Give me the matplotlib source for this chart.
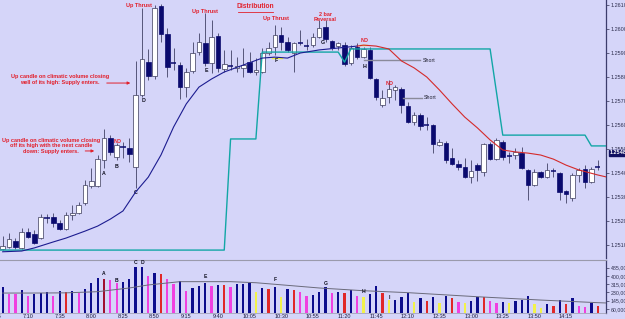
import matplotlib
matplotlib.use('Agg')
import matplotlib.pyplot as plt
import numpy as np

plt.rcParams['font.family'] = ['Liberation Sans', 'DejaVu Sans']

# ---------------- data ----------------
opens = [1.25083, 1.25092, 1.25117, 1.25088, 1.25154, 1.25146, 1.25129, 1.25213, 1.25217, 1.25192,
         1.25167, 1.25225, 1.25233, 1.25275, 1.25346, 1.25346, 1.25454, 1.25546, 1.25467, 1.25508,
         1.25504, 1.25425, 1.25725, 1.25863, 1.25804, 1.26096, 1.25979, 1.25858, 1.25850, 1.25758,
         1.25825, 1.25904, 1.25942, 1.25858, 1.25971, 1.25833, 1.25846, 1.25838, 1.25838, 1.25863,
         1.25821, 1.25821, 1.25900, 1.25925, 1.25975, 1.25946, 1.25900, 1.25942, 1.25929, 1.25933,
         1.25967, 1.26008, 1.25950, 1.25929, 1.25933, 1.25858, 1.25925, 1.25883, 1.25913, 1.25792,
         1.25683, 1.25717, 1.25746, 1.25750, 1.25679, 1.25613, 1.25642, 1.25600, 1.25600, 1.25517,
         1.25525, 1.25463, 1.25438, 1.25425, 1.25383, 1.25433, 1.25404, 1.25521, 1.25458, 1.25529,
         1.25471, 1.25475, 1.25483, 1.25413, 1.25350, 1.25404, 1.25383, 1.25408, 1.25400, 1.25325,
         1.25296, 1.25392, 1.25417, 1.25363, 1.25425]
closes = [1.25096, 1.25125, 1.25092, 1.25154, 1.25133, 1.25108, 1.25217, 1.25213, 1.25192, 1.25167,
          1.25225, 1.25233, 1.25267, 1.25350, 1.25367, 1.25458, 1.25546, 1.25488, 1.25517, 1.25508,
          1.25479, 1.25725, 1.25875, 1.25804, 1.26088, 1.25979, 1.25842, 1.25858, 1.25758, 1.25821,
          1.25900, 1.25946, 1.25858, 1.25967, 1.25838, 1.25854, 1.25846, 1.25846, 1.25850, 1.25821,
          1.25829, 1.25900, 1.25921, 1.25975, 1.25946, 1.25913, 1.25942, 1.25942, 1.25929, 1.25967,
          1.26004, 1.25958, 1.25921, 1.25942, 1.25854, 1.25921, 1.25883, 1.25917, 1.25796, 1.25717,
          1.25713, 1.25750, 1.25758, 1.25683, 1.25613, 1.25642, 1.25596, 1.25600, 1.25521, 1.25529,
          1.25454, 1.25438, 1.25425, 1.25383, 1.25408, 1.25413, 1.25521, 1.25458, 1.25538, 1.25467,
          1.25471, 1.25488, 1.25421, 1.25350, 1.25404, 1.25383, 1.25413, 1.25408, 1.25321, 1.25313,
          1.25392, 1.25413, 1.25363, 1.25417, 1.25425]
highs = [1.25138, 1.25150, 1.25129, 1.25171, 1.25171, 1.25163, 1.25229, 1.25229, 1.25233, 1.25204,
         1.25238, 1.25267, 1.25279, 1.25371, 1.25421, 1.25475, 1.25583, 1.25558, 1.25525, 1.25529,
         1.25546, 1.25867, 1.26088, 1.25917, 1.26100, 1.26104, 1.26004, 1.25921, 1.25863, 1.25838,
         1.25946, 1.25983, 1.26067, 1.26038, 1.25983, 1.25913, 1.25913, 1.25883, 1.25921, 1.25904,
         1.25879, 1.25921, 1.25946, 1.26017, 1.26008, 1.25967, 1.25946, 1.25996, 1.25958, 1.25983,
         1.26038, 1.26038, 1.25954, 1.25946, 1.25946, 1.25933, 1.25942, 1.25925, 1.25925, 1.25796,
         1.25746, 1.25788, 1.25767, 1.25758, 1.25696, 1.25654, 1.25650, 1.25633, 1.25604, 1.25542,
         1.25533, 1.25504, 1.25454, 1.25463, 1.25454, 1.25442, 1.25525, 1.25529, 1.25546, 1.25538,
         1.25488, 1.25504, 1.25508, 1.25417, 1.25417, 1.25408, 1.25442, 1.25421, 1.25404, 1.25329,
         1.25400, 1.25421, 1.25433, 1.25425, 1.25454]
lows = [1.25081, 1.25088, 1.25083, 1.25083, 1.25129, 1.25104, 1.25125, 1.25192, 1.25175, 1.25163,
        1.25163, 1.25204, 1.25229, 1.25267, 1.25338, 1.25342, 1.25421, 1.25475, 1.25454, 1.25463,
        1.25446, 1.25338, 1.25717, 1.25788, 1.25792, 1.25946, 1.25800, 1.25829, 1.25708, 1.25717,
        1.25817, 1.25892, 1.25846, 1.25817, 1.25821, 1.25821, 1.25829, 1.25821, 1.25800, 1.25817,
        1.25808, 1.25817, 1.25892, 1.25892, 1.25913, 1.25904, 1.25821, 1.25933, 1.25913, 1.25925,
        1.25963, 1.25946, 1.25913, 1.25913, 1.25846, 1.25850, 1.25875, 1.25879, 1.25792, 1.25704,
        1.25675, 1.25692, 1.25704, 1.25650, 1.25608, 1.25600, 1.25579, 1.25579, 1.25483, 1.25513,
        1.25442, 1.25433, 1.25413, 1.25379, 1.25358, 1.25367, 1.25388, 1.25454, 1.25454, 1.25454,
        1.25442, 1.25458, 1.25417, 1.25288, 1.25346, 1.25379, 1.25379, 1.25383, 1.25288, 1.25275,
        1.25283, 1.25363, 1.25338, 1.25358, 1.25413]

volume_k = [289, 214, 214, 255, 197, 214, 224, 235, 194, 248,
            238, 248, 228, 262, 330, 382, 365, 358, 324, 341,
            368, 495, 495, 399, 427, 417, 365, 314, 348, 245,
            273, 299, 324, 299, 307, 307, 283, 314, 317, 324,
            238, 273, 266, 283, 186, 266, 255, 238, 197, 207,
            232, 289, 221, 238, 221, 255, 197, 180, 214, 299,
            221, 152, 152, 186, 228, 135, 176, 145, 186, 125,
            197, 170, 129, 119, 145, 186, 180, 145, 125, 135,
            119, 142, 152, 197, 108, 67, 111, 94, 152, 111,
            170, 91, 84, 119, 94]
volume_cls = ("bppbpbbbpbrbpbbbdppbbbbpbrppbpbbbpbrpbbbybrbybrppbbbpbrbpybbryb"
              "bbybrbybrpybbrppbybbbyybrbrbppbr")

vol_ma_bars = [0, 5, 10, 15, 20, 23, 28, 36, 40, 43, 50, 57, 64, 75, 85, 94]
vol_ma_k = [224, 224, 226, 238, 276, 307, 341, 341, 330, 314, 276, 248, 228, 186, 152, 125]

ma_up_bars = [0, 3, 5, 8, 10, 13, 15, 17, 19, 21, 23, 25, 27, 29, 31, 33, 35, 38, 41, 43, 45, 47,
              50, 53, 56]
ma_up_vals = [1.25072, 1.25075, 1.25088, 1.25113, 1.25129, 1.25158, 1.25179, 1.25208, 1.25242,
              1.25321, 1.25383, 1.25475, 1.25592, 1.25688, 1.25758, 1.25792, 1.25821, 1.25850,
              1.25879, 1.25883, 1.25879, 1.25900, 1.25913, 1.25921, 1.25929]
ma_dn_bars = [56, 57, 59, 61, 63, 65, 67, 69, 71, 73, 75, 77, 79, 81, 83, 85, 87, 89, 91, 94]
ma_dn_vals = [1.25929, 1.25933, 1.25929, 1.25917, 1.25867, 1.25838, 1.25800, 1.25746, 1.25688,
              1.25633, 1.25588, 1.25538, 1.25496, 1.25488, 1.25483, 1.25475, 1.25458, 1.25433,
              1.25413, 1.25392]

stop_vals = [1.25079] * 36 + [1.25542] * 5 + [1.25904] * 13 + [1.25862] + [1.25917] * 23 + \
            [1.25738] + [1.25558] * 14 + [1.25513] * 2

time_ticks = [4, 9, 14, 19, 24, 29, 34, 39, 44, 49, 54, 59, 64, 69, 74, 79, 84, 89]
time_labels = ['7:10', '7:35', '8:00', '8:25', '8:50', '9:15', '9:40', '10:05', '10:30', '10:55',
               '11:20', '11:45', '12:10', '12:35', '13:00', '13:25', '13:50', '14:15']

price_ticks = [1.2510, 1.2520, 1.2530, 1.2540, 1.2550, 1.2560, 1.2570, 1.2580, 1.2590, 1.2600, 1.2610]
vol_ticks_k = [60, 145, 230, 315, 400, 485]
last_price = 1.25484

# ---------------- style ----------------
BG = '#d5d5f9'
NAVY = '#0a0a6e'
WICK = '#56567a'
EDGE = '#3a3a5a'
RED = '#e2202c'
AXC = '#3c3c6c'
VCOL = {'b': '#0c0c8c', 'p': '#f040e0', 'r': '#e02828', 'd': '#a01030', 'y': '#f2f24a'}

W, H = 625, 319
fig = plt.figure(figsize=(W / 100, H / 100), dpi=100, facecolor=BG)
axp = fig.add_axes([0, 1 - 258 / H, 606 / W, 258 / H], facecolor=BG)
axv = fig.add_axes([0, 1 - 312.5 / H, 606 / W, 52.5 / H], facecolor=BG)

xmin, xmax = -0.427, 95.31
n = len(opens)
x = np.arange(n)

# candles
o = np.array(opens); c = np.array(closes); hi = np.array(highs); lo = np.array(lows)
axp.vlines(x, lo, hi, color=WICK, lw=0.7, zorder=1)
up = c > o
dn = c < o
dj = c == o
axp.bar(x[up], (c - o)[up], bottom=o[up], width=0.72, color='white', edgecolor=EDGE,
        linewidth=0.5, zorder=2)
axp.bar(x[dn], (o - c)[dn], bottom=c[dn], width=0.72, color=NAVY, edgecolor=NAVY,
        linewidth=0.5, zorder=2)
axp.hlines(c[dj], x[dj] - 0.4, x[dj] + 0.4, color=NAVY, lw=1.1, zorder=2)

# lines
sx = list(x) + [xmax]
sv = list(stop_vals) + [stop_vals[-1]]
axp.plot([xmin] + sx, [stop_vals[0]] + sv, color='#12a6a6', lw=1.0, zorder=3)
axp.plot(ma_up_bars, ma_up_vals, color='#1c1c90', lw=0.8, zorder=4)
axp.plot(ma_dn_bars + [xmax], ma_dn_vals + [ma_dn_vals[-1] - 0.00008], color='#d42a2a', lw=0.8, zorder=4)

axp.set_xlim(xmin, xmax)
axp.set_ylim(1.25046, 1.26121)

# Short lines
axp.plot([57, 66], [1.25871, 1.25871], color='#8a8a9a', lw=1.0, zorder=3)
axp.text(66.3, 1.25871, 'Short', fontsize=3.8, color='#202030', va='center', ha='left')
axp.plot([63.3, 66.3], [1.25713, 1.25713], color='#8a8a9a', lw=1.0, zorder=3)
axp.text(66.6, 1.25713, 'Short', fontsize=3.8, color='#202030', va='center', ha='left')

# small yellow marks
axp.plot([42.6, 44.1], [1.25880, 1.25880], color='#f0f040', lw=1.0, zorder=3)
axp.plot([56.5, 57.6], [1.25935, 1.25935], color='#f0f040', lw=1.0, zorder=3)

# red annotations
kw = dict(color=RED, fontsize=4.0, fontweight='bold', ha='center', va='center')
axp.text(21.5, 1.26096, 'Up Thrust', **kw)
axp.text(32.0, 1.26071, 'Up Thrust', **kw)
axp.text(43.2, 1.26042, 'Up Thrust', **kw)
axp.text(51.0, 1.26050, '2 bar\nReversal', linespacing=1.0, **kw)
axp.text(57.1, 1.25954, 'ND', **kw)
axp.text(61.2, 1.25775, 'ND', **kw)
axp.text(18.2, 1.25533, 'ND', **kw)
axp.text(39.9, 1.26092, 'Distribution', color=RED, fontsize=4.8, fontweight='bold',
         ha='center', va='center')
axp.plot([37.1, 42.7], [1.26073, 1.26073], color=RED, lw=0.6)
axp.text(9.05, 1.25790, 'Up candle on climatic volume closing\nwell of its high: Supply enters.',
         linespacing=1.15, **kw)
axp.text(7.6, 1.25513, 'Up candle on climatic volume closing\noff its high with the next candle\n'
         'down: Supply enters.', linespacing=1.15, **kw)
axp.annotate('', xy=(20.6, 1.25775), xytext=(16.0, 1.25775),
             arrowprops=dict(arrowstyle='-|>', color=RED, lw=0.7, mutation_scale=4))
axp.annotate('', xy=(14.9, 1.25492), xytext=(12.6, 1.25492),
             arrowprops=dict(arrowstyle='-|>', color=RED, lw=0.7, mutation_scale=4))

# black letters
lk = dict(color='#101020', fontsize=3.8, fontweight='bold', ha='center', va='center')
for lb, bx, py in [('A', 16, 1.25400), ('B', 18.05, 1.25429), ('C', 21, 1.25321), ('D', 22.2, 1.25704),
                   ('E', 32.1, 1.25829), ('F', 43.2, 1.25867), ('G', 50.6, 1.25942), ('H', 57.1, 1.25846)]:
    axp.text(bx, py, lb, **lk)

# price axis
for s in ['top', 'left', 'bottom']:
    axp.spines[s].set_visible(False)
axp.spines['right'].set_color(AXC)
axp.spines['right'].set_linewidth(0.9)
axp.set_xticks([])
axp.yaxis.tick_right()
axp.set_yticks(price_ticks)
axp.set_yticklabels([f'{v:.5f}' for v in price_ticks])
axp.tick_params(axis='y', labelsize=4, length=2.5, width=0.5, pad=1, colors='#303050')
axp.text(1.006, (last_price - 1.25046) / (1.26121 - 1.25046), f'{last_price:.4f}',
         transform=axp.transAxes, fontsize=4, color='white', fontweight='bold', va='center', ha='left',
         bbox=dict(boxstyle='square,pad=0.15', fc='#101060', ec='#101060'), clip_on=False)

# volume panel
vcols = [VCOL[k] for k in volume_cls]
axv.bar(x, volume_k, width=0.36, color=vcols, zorder=2)
axv.plot(vol_ma_bars + [xmax], vol_ma_k + [122], color='#6a6a7a', lw=0.7, zorder=3)
vk = dict(color='#101020', fontsize=3.6, fontweight='bold', ha='center', va='center')
for lb, bx, vv in [('A', 16, 420), ('B', 18, 358), ('C', 21, 543), ('D', 22, 543), ('E', 32, 389),
                   ('F', 43, 368), ('G', 51, 327), ('H', 57, 235), ('I', 61, 183)]:
    axv.text(bx, vv, lb, **vk)
axv.set_xlim(xmin, xmax)
axv.set_ylim(24, 563.6)
axv.spines['left'].set_visible(False)
axv.spines['top'].set_color('#9a9aac')
axv.spines['top'].set_linewidth(0.8)
axv.spines['bottom'].set_color('#9a9aac')
axv.spines['bottom'].set_linewidth(0.5)
axv.spines['right'].set_color(AXC)
axv.spines['right'].set_linewidth(0.9)
axv.yaxis.tick_right()
axv.set_yticks(vol_ticks_k)
axv.set_yticklabels([f'{v},000' for v in vol_ticks_k])
axv.tick_params(axis='y', labelsize=3.8, length=2.5, width=0.5, pad=1, colors='#303050')
axv.set_xticks(time_ticks)
axv.set_xticklabels(time_labels)
axv.tick_params(axis='x', labelsize=4, length=0, pad=1, colors='#202040')
axv.text(-1, -0.03, '6:45', transform=axv.get_xaxis_transform(), fontsize=4, color='#202040',
         ha='center', va='top', clip_on=False)

fig.savefig('out.png', dpi=100, facecolor=BG)
